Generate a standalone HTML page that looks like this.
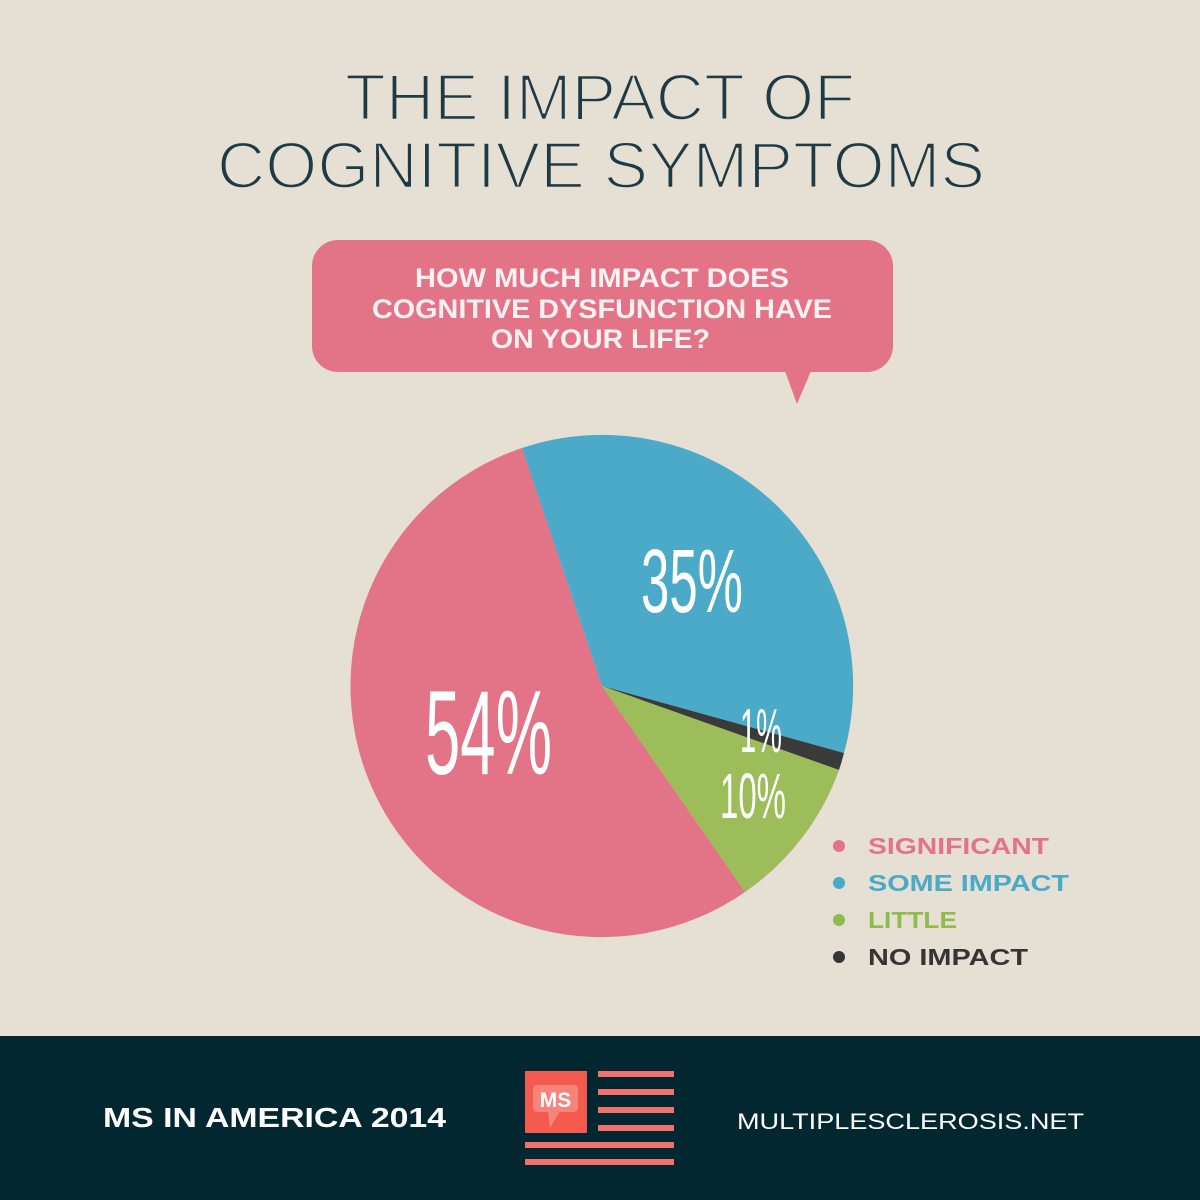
<!DOCTYPE html>
<html>
<head>
<meta charset="utf-8">
<style>
html,body{margin:0;padding:0;width:1200px;height:1200px;overflow:hidden;background:#e6dfd3;}
svg{display:block;}
</style>
</head>
<body>
<svg width="1200" height="1200" viewBox="0 0 1200 1200" xmlns="http://www.w3.org/2000/svg">
  <rect x="0" y="0" width="1200" height="1200" fill="#e6dfd3"/>

  <!-- Title (thinned by background-colored stroke over fill) -->
  <g font-family="Liberation Sans, sans-serif" fill="#1e3b45" stroke="#e6dfd3" stroke-width="2.4">
    <text x="345" y="120" font-size="66" textLength="510" lengthAdjust="spacingAndGlyphs">THE IMPACT OF</text>
    <text x="217" y="188" font-size="66" textLength="768" lengthAdjust="spacingAndGlyphs">COGNITIVE SYMPTOMS</text>
  </g>

  <!-- Speech bubble -->
  <rect x="312" y="240" width="581" height="132" rx="26" ry="26" fill="#e37386"/>
  <polygon points="785,371 811,371 797,404" fill="#e37386"/>
  <g font-family="Liberation Sans, sans-serif" font-weight="bold" fill="#fdf1f2" font-size="27">
    <text x="415" y="287" textLength="374" lengthAdjust="spacingAndGlyphs">HOW MUCH IMPACT DOES</text>
    <text x="372" y="318" textLength="460" lengthAdjust="spacingAndGlyphs">COGNITIVE DYSFUNCTION HAVE</text>
    <text x="491" y="348" textLength="219" lengthAdjust="spacingAndGlyphs">ON YOUR LIFE?</text>
  </g>

  <!-- Pie slices -->
  <path d="M602,686 L522,448 A251,251 0 0 1 844,753 Z" fill="#4aaac7"/>
  <path d="M602,686 L844,753 A251,251 0 0 1 839,770 Z" fill="#3a3a3b"/>
  <path d="M602,686 L839,770 A251,251 0 0 1 745,892 Z" fill="#9cbd5a"/>
  <path d="M602,686 L745,892 A251,251 0 1 1 522,448 Z" fill="#e37386"/>

  <!-- Pie labels -->
  <g font-family="Liberation Sans, sans-serif" fill="#ffffff">
    <text x="641" y="612" font-size="90" textLength="102" lengthAdjust="spacingAndGlyphs">35%</text>
    <text x="425" y="774" font-size="120" textLength="127" lengthAdjust="spacingAndGlyphs">54%</text>
    <text x="740" y="752" font-size="62" textLength="42" lengthAdjust="spacingAndGlyphs">1%</text>
    <text x="720" y="818" font-size="64" textLength="66" lengthAdjust="spacingAndGlyphs">10%</text>
  </g>

  <!-- Legend -->
  <circle cx="839" cy="846" r="6" fill="#e37386"/>
  <circle cx="839" cy="883" r="6" fill="#4aaac7"/>
  <circle cx="839" cy="920" r="6" fill="#8fba4c"/>
  <circle cx="839" cy="957" r="6" fill="#353535"/>
  <g font-family="Liberation Sans, sans-serif" font-weight="bold" font-size="23">
    <text x="868" y="854" fill="#e37386" textLength="181" lengthAdjust="spacingAndGlyphs">SIGNIFICANT</text>
    <text x="868" y="891" fill="#4aaac7" textLength="201" lengthAdjust="spacingAndGlyphs">SOME IMPACT</text>
    <text x="868" y="928" fill="#8fba4c" textLength="89" lengthAdjust="spacingAndGlyphs">LITTLE</text>
    <text x="868" y="965" fill="#353535" textLength="160" lengthAdjust="spacingAndGlyphs">NO IMPACT</text>
  </g>

  <!-- Footer -->
  <rect x="0" y="1036" width="1200" height="164" fill="#022730"/>
  <text x="103" y="1127" font-family="Liberation Sans, sans-serif" font-weight="bold" font-size="28" fill="#ffffff" textLength="343" lengthAdjust="spacingAndGlyphs">MS IN AMERICA 2014</text>
  <text x="737" y="1129" font-family="Liberation Sans, sans-serif" font-size="22" fill="#ffffff" textLength="347" lengthAdjust="spacingAndGlyphs">MULTIPLESCLEROSIS.NET</text>

  <!-- Logo -->
  <rect x="525" y="1071" width="62" height="62" fill="#f45a4e"/>
  <rect x="533" y="1085" width="45" height="27" rx="4" ry="4" fill="#f7847b"/>
  <polygon points="548,1111 560,1111 550,1128" fill="#f7847b"/>
  <text x="555.5" y="1107" text-anchor="middle" font-family="Liberation Sans, sans-serif" font-weight="bold" font-size="21" fill="#ffffff">MS</text>
  <g fill="#f2726b">
    <rect x="598" y="1071" width="76" height="6"/>
    <rect x="598" y="1089" width="76" height="6"/>
    <rect x="598" y="1107" width="76" height="6"/>
    <rect x="598" y="1125" width="76" height="6"/>
    <rect x="525" y="1142" width="149" height="6"/>
    <rect x="525" y="1159" width="149" height="6"/>
  </g>
</svg>
</body>
</html>
